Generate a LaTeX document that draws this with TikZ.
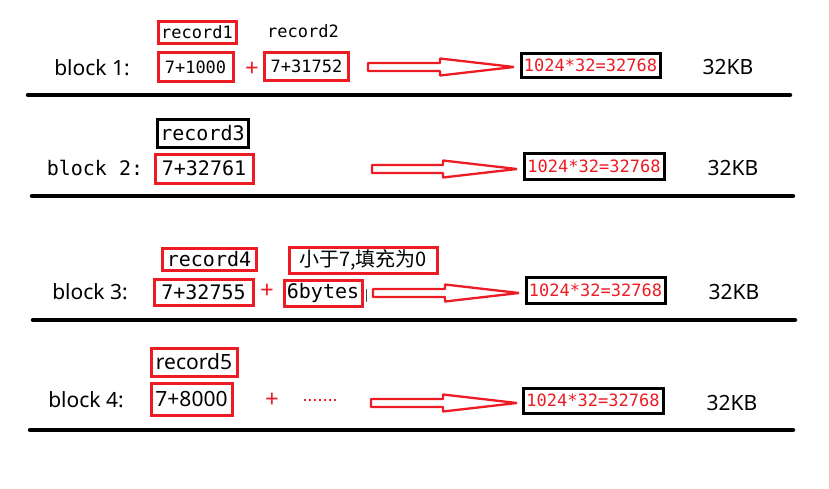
\documentclass[tikz,border=0pt]{standalone}
\usepackage{fontspec}
\setmainfont{Noto Sans}
\setmonofont{DejaVu Sans Mono}
\newfontfamily\cjk{Noto Sans CJK SC}
\definecolor{pred}{RGB}{237,28,36}

\begin{document}
\begin{tikzpicture}[x=1pt,y=-1pt,
  redbox/.style={draw=pred,line width=3pt,inner sep=0pt},
  blkbox/.style={draw=black,line width=3pt,inner sep=0pt,text=pred,
    font=\ttfamily\fontsize{17}{17}\selectfont},
  monos/.style={font=\ttfamily\fontsize{17}{17}\selectfont},
  monob/.style={font=\ttfamily\fontsize{20}{20}\selectfont},
  sans/.style={font=\fontsize{21}{21}\selectfont},
  plus/.style={text=pred,font=\bfseries\fontsize{24}{24}\selectfont},
  hollow/.style={draw=pred,line width=2.3pt,line join=bevel},
  floor/.style={line width=4.5pt,line cap=round}]
  \useasboundingbox (0,0) rectangle (829,488);
  % block 1
  \node[redbox,monos,minimum width=78,minimum height=22] (rec1) at (197,32) {record1};
  \node[monos] (rec2) at (303,31) {record2};
  \node[sans] (blk1) at (92,68) {block 1:};
  \node[redbox,monos,minimum width=75,minimum height=29] (r1a) at (195.5,67) {7+1000};
  \node[plus] (p1) at (252,69) {+};
  \node[redbox,monos,minimum width=84,minimum height=28] (r1b) at (306.5,66) {7+31752};
  \node[blkbox,minimum width=139,minimum height=24] (sum1) at (590.5,65) {1024*32=32768};
  \node[sans] (kb1) at (728,67) {32KB};
  % block 2
  \node[blkbox,monob,text=black,minimum width=91,minimum height=28] (rec3) at (202.5,133) {record3};
  \node[monob] (blk2) at (95,168) {block 2:};
  \node[redbox,monob,minimum width=98,minimum height=29] (r2a) at (204,168.5) {7+32761};
  \node[blkbox,minimum width=140,minimum height=26] (sum2) at (594,166) {1024*32=32768};
  \node[sans] (kb2) at (733,168) {32KB};
  % block 3
  \node[redbox,monob,minimum width=94,minimum height=22] (rec4) at (209,259) {record4};
  \node[redbox,font=\cjk\fontsize{20}{20}\selectfont,minimum width=148,minimum height=26] (pad) at (363,260) {小于7,填充为0};
  \node[sans] (blk3) at (90,292) {block 3:};
  \node[redbox,monob,minimum width=99,minimum height=26] (r3a) at (203.5,292) {7+32755};
  \node[plus] (p3) at (267,291) {+};
  \node[redbox,monob,minimum width=78,minimum height=26] (r3b) at (323,293) {6bytes};
  \node[blkbox,minimum width=139,minimum height=26] (sum3) at (595.5,290) {1024*32=32768};
  \node[sans] (kb3) at (734,292) {32KB};
  \draw[gray!60!black,line width=0.8pt] (366,289) -- (366,302);
  % block 4
  \node[redbox,sans,minimum width=86,minimum height=28] (rec5) at (194,362) {record5};
  \node[sans] (blk4) at (86,400) {block 4:};
  \node[redbox,sans,minimum width=81,minimum height=32] (r4a) at (191.5,399) {7+8000};
  \node[plus] (p4) at (272,400) {+};
  \draw[pred,line width=2pt,dash pattern=on 2pt off 3pt] (304,400) -- (337,400);
  \node[blkbox,minimum width=140,minimum height=25] (sum4) at (593,400.5) {1024*32=32768};
  \node[sans] (kb4) at (732,403) {32KB};
  % arrows and floors
  \foreach \y/\s/\t in {67/368/514,169/372/517,293/373/519,403/371/517}
    \draw[hollow] (\s,\y-4) -- (\t-74,\y-4) -- (\t-74,\y-8.5) -- (\t,\y)
      -- (\t-74,\y+8.5) -- (\t-74,\y+4) -- (\s,\y+4) -- cycle;
  \foreach \y/\a/\b in {95/28/790,196/32/793,320/33/795,430/30/793}
    \draw[floor] (\a,\y) -- (\b,\y);
\end{tikzpicture}
\end{document}
